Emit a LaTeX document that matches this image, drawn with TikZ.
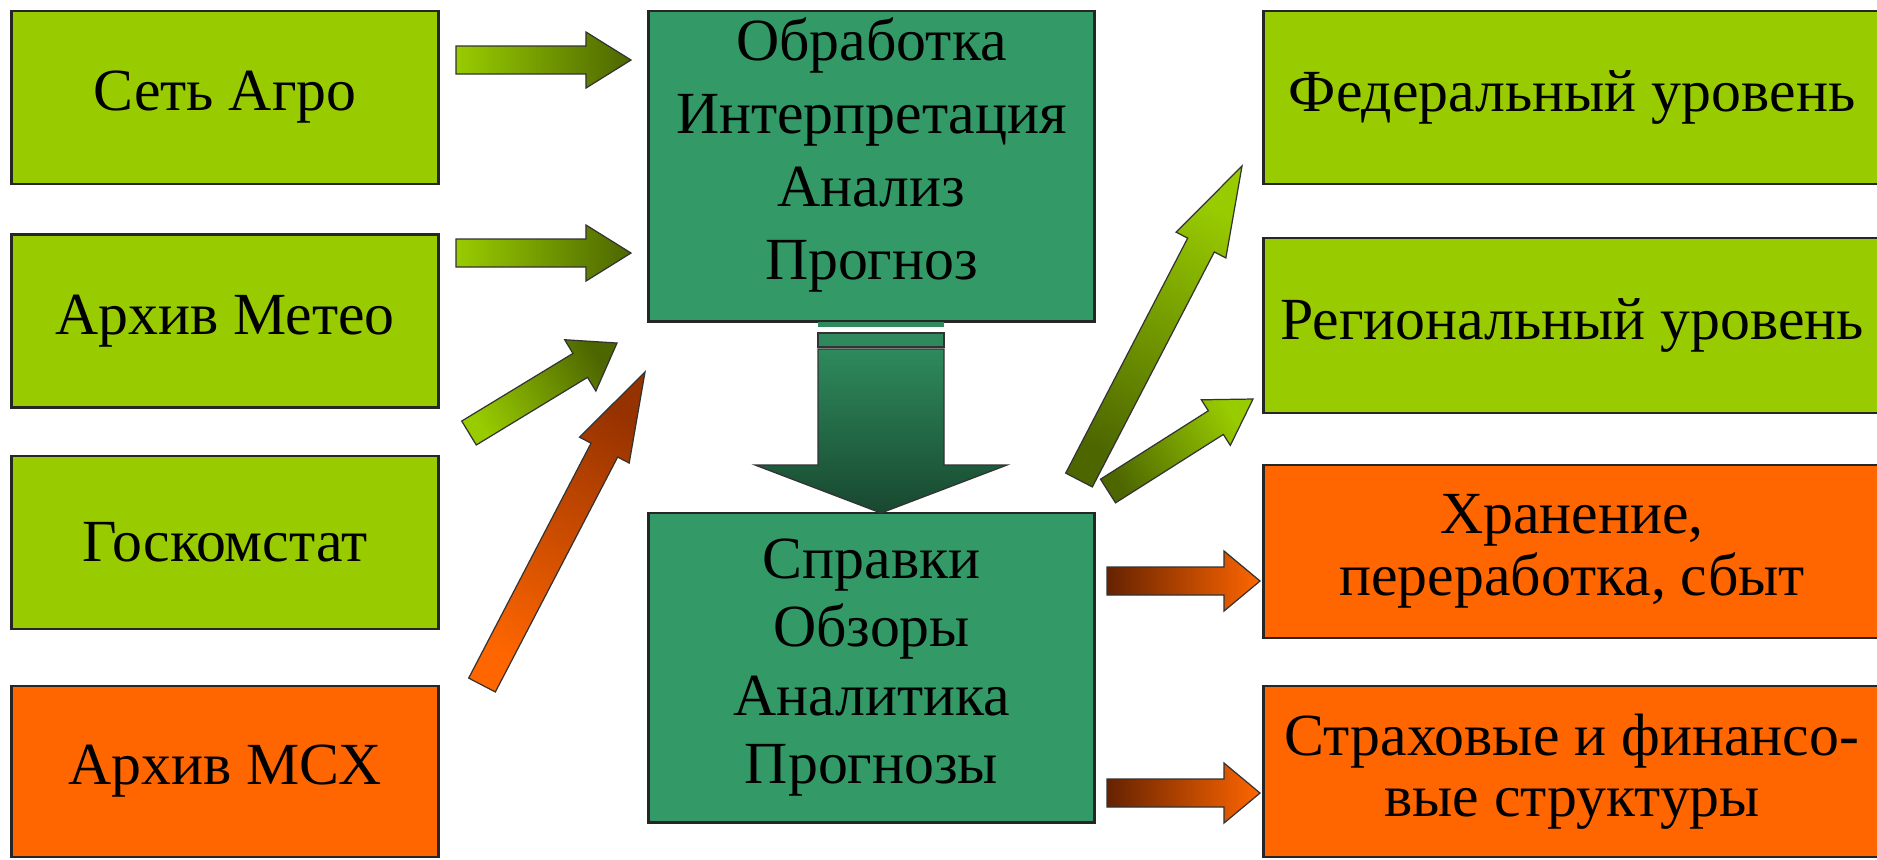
\documentclass[tikz,border=0pt]{standalone}
\usepackage{fontspec}
\setmainfont{Liberation Serif}
\usetikzlibrary{calc}

\definecolor{leaf}{RGB}{153,204,0}
\definecolor{darkolive}{RGB}{77,102,0}
\definecolor{sea}{RGB}{51,153,102}
\definecolor{deepsea}{RGB}{24,72,48}
\definecolor{rust}{RGB}{255,102,0}
\definecolor{ember}{RGB}{150,50,0}
\definecolor{burnt}{RGB}{102,34,0}

\newcommand{\blockarrow}[6]{%
  \coordinate (neck) at ($(#3)!#6!(#2)$);
  \shade[arrowline,#1] ($(#2)!#4!90:(#3)$) -- ($(neck)!#4!90:(#3)$)
    -- ($(neck)!#5!90:(#3)$) -- (#3) -- ($(neck)!#5!-90:(#3)$)
    -- ($(neck)!#4!-90:(#3)$) -- ($(#2)!#4!-90:(#3)$) -- cycle;}

\begin{document}
\begin{tikzpicture}[x=0.01cm, y=-0.01cm,
  box/.style={draw=black!85, line width=0.8pt, minimum width=4.26cm,
    minimum height=1.73cm, inner sep=0pt, align=center,
    font=\fontsize{17}{17.5}\selectfont},
  arrowline/.style={draw=black!80, line width=0.35pt}]

\useasboundingbox[fill=white] (0,0) rectangle (1877,859);

\node[box, fill=leaf] (agro)   at (225,97.5)  {Сеть Агро};
\node[box, fill=leaf] (meteo)  at (225,321)   {Архив Метео};
\node[box, fill=leaf] (goskom) at (225,542.5) {Госкомстат};
\node[box, fill=rust, minimum height=1.71cm] (msh) at (225,771.5) {Архив МСХ};

\node[box, fill=sea, minimum width=4.45cm, minimum height=3.10cm] (proc) at (871.5,166) {};
\node[align=center, font=\fontsize{17}{20.8}\selectfont] (proctext) at (871.5,155)
  {Обработка\\Интерпретация\\Анализ\\Прогноз};
\node[box, fill=sea, minimum width=4.45cm, minimum height=3.09cm,
  font=\fontsize{17}{19.5}\selectfont] (reports) at (871.5,667.5)
  {Справки\\Обзоры\\Аналитика\\Прогнозы};

\node[box, fill=leaf, minimum width=6.16cm] (federal) at (1572,97.5) {Федеральный уровень};
\node[box, fill=leaf, minimum width=6.16cm, minimum height=1.75cm] (region) at (1572,325.5) {Региональный уровень};
\node[box, fill=rust, minimum width=6.16cm] (storage) at (1572,551.5) {Хранение,\\переработка, сбыт};
\node[box, fill=rust, minimum width=6.16cm, minimum height=1.71cm] (finance) at (1572,771.5) {Страховые и финансо-\\вые структуры};

\coordinate (t1) at (456,60);   \coordinate (h1) at (631,60);
\coordinate (t2) at (456,253);  \coordinate (h2) at (631,253);
\coordinate (t3) at (469,433);  \coordinate (h3) at (617,343);
\coordinate (t4) at (482,685);  \coordinate (h4) at (645,372);
\coordinate (t5) at (1079,480); \coordinate (h5) at (1242,166);
\coordinate (t6) at (1108,491); \coordinate (h6) at (1253,399);
\coordinate (t7) at (1107,581); \coordinate (h7) at (1260,581);
\coordinate (t8) at (1107,793); \coordinate (h8) at (1260,793);

\blockarrow{left color=leaf, right color=darkolive}{t1}{h1}{0.14cm}{0.28cm}{0.45cm}
\blockarrow{left color=leaf, right color=darkolive}{t2}{h2}{0.14cm}{0.28cm}{0.45cm}
\blockarrow{top color=leaf, bottom color=darkolive, shading angle=121.3}{t3}{h3}{0.14cm}{0.30cm}{0.43cm}
\blockarrow{top color=rust, bottom color=ember, shading angle=152.5}{t4}{h4}{0.15cm}{0.28cm}{0.88cm}
\blockarrow{top color=darkolive, bottom color=leaf, shading angle=152.6}{t5}{h5}{0.15cm}{0.28cm}{0.89cm}
\blockarrow{top color=darkolive, bottom color=leaf, shading angle=122.4}{t6}{h6}{0.14cm}{0.27cm}{0.44cm}
\blockarrow{left color=burnt, right color=rust}{t7}{h7}{0.14cm}{0.30cm}{0.36cm}
\blockarrow{left color=burnt, right color=rust}{t8}{h8}{0.14cm}{0.30cm}{0.36cm}

\coordinate (downtip) at (881,513);
\fill[sea!90!black] (818,322) rectangle (944,327);
\draw[arrowline, fill=sea!90!black] (818,333) rectangle (944,347);
\shade[arrowline, top color=sea!90!black, bottom color=deepsea]
  (818,349) -- (818,465) -- (755,465) -- (downtip) -- (1007,465) -- (944,465) -- (944,349) -- cycle;

\end{tikzpicture}
\end{document}
